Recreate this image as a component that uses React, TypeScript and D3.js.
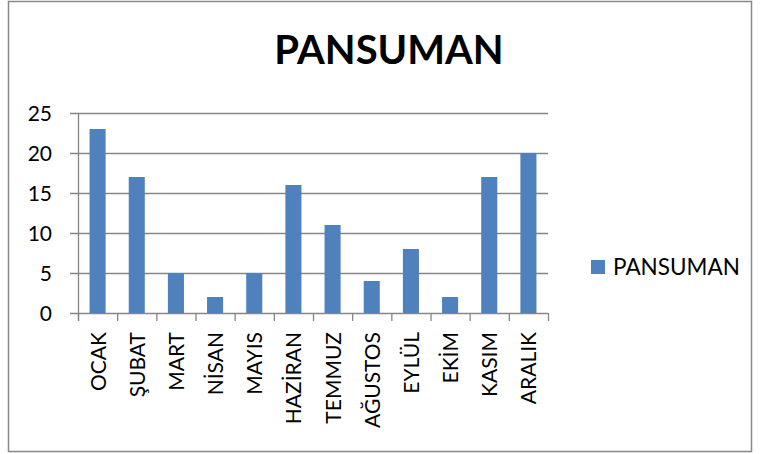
import React, { useRef, useEffect } from 'react';
import * as d3 from 'd3';

const months = ['OCAK', 'ŞUBAT', 'MART', 'NİSAN', 'MAYIS', 'HAZİRAN', 'TEMMUZ', 'AĞUSTOS', 'EYLÜL', 'EKİM', 'KASIM', 'ARALIK'];
const pansuman = [23, 17, 5, 2, 5, 16, 11, 4, 8, 2, 17, 20];
const yTicks = [0, 5, 10, 15, 20, 25];
const seriesName = 'PANSUMAN';

const FONT = 'Lato, "Open Sans", sans-serif';

export default function App() {
  const svgRef = useRef<SVGSVGElement | null>(null);

  useEffect(() => {
    const svg = d3.select(svgRef.current);
    svg.selectAll('*').remove();

    const left = 78, right = 548, top = 113, bottom = 313;

    const x = d3.scaleBand().domain(months).range([left, right]).paddingInner(0.59).paddingOuter(0.295);
    const y = d3.scaleLinear().domain([0, 25]).range([bottom, top]);

    // frame
    svg.append('rect')
      .attr('x', 8.5).attr('y', 1.5).attr('width', 743).attr('height', 450)
      .attr('fill', '#fff').attr('stroke', '#898989').attr('stroke-width', 1.5);

    svg.append('text')
      .attr('x', 389).attr('y', 64)
      .attr('text-anchor', 'middle')
      .attr('font-family', FONT).attr('font-weight', 'bold').attr('font-size', 40)
      .text(seriesName);

    // gridlines
    svg.append('g').selectAll('line').data(yTicks).join('line')
      .attr('x1', left - 8).attr('x2', right)
      .attr('y1', (d) => y(d) + 0.5).attr('y2', (d) => y(d) + 0.5)
      .attr('stroke', '#868686').attr('stroke-width', 1.3);

    // y axis line
    svg.append('line')
      .attr('x1', left + 0.5).attr('x2', left + 0.5).attr('y1', top).attr('y2', bottom + 8)
      .attr('stroke', '#868686').attr('stroke-width', 1.3);

    // y labels
    svg.append('g').selectAll('text').data(yTicks).join('text')
      .attr('x', 52).attr('y', (d) => y(d) + 7.5)
      .attr('text-anchor', 'end')
      .attr('font-family', FONT).attr('font-size', 21)
      .text((d) => d);

    // category ticks
    const step = x.step();
    const tickPos = d3.range(months.length + 1).map((i) => left + i * step);
    svg.append('g').selectAll('line').data(tickPos).join('line')
      .attr('x1', (d) => d + 0.5).attr('x2', (d) => d + 0.5)
      .attr('y1', bottom).attr('y2', bottom + 8)
      .attr('stroke', '#868686').attr('stroke-width', 1.3);

    // bars
    svg.append('g').selectAll('rect').data(pansuman).join('rect')
      .attr('x', (d, i) => x(months[i]) as number)
      .attr('y', (d) => y(d))
      .attr('width', x.bandwidth())
      .attr('height', (d) => bottom - y(d))
      .attr('fill', '#4F81BD');

    // category labels
    svg.append('g').selectAll('text').data(months).join('text')
      .attr('transform', (d) => `translate(${(x(d) as number) + x.bandwidth() / 2 + 8},${bottom + 19}) rotate(-90)`)
      .attr('text-anchor', 'end')
      .attr('font-family', FONT).attr('font-size', 21)
      .text((d) => d);

    // legend
    svg.append('rect')
      .attr('x', 591).attr('y', 260).attr('width', 14).attr('height', 14)
      .attr('fill', '#4F81BD');
    svg.append('text')
      .attr('x', 613).attr('y', 275)
      .attr('font-family', FONT).attr('font-size', 22.5)
      .text(seriesName);
  }, []);

  return (
    <svg ref={svgRef} width={760} height={454} style={{ position: 'absolute', left: 0, top: 0 }}></svg>
  );
}
